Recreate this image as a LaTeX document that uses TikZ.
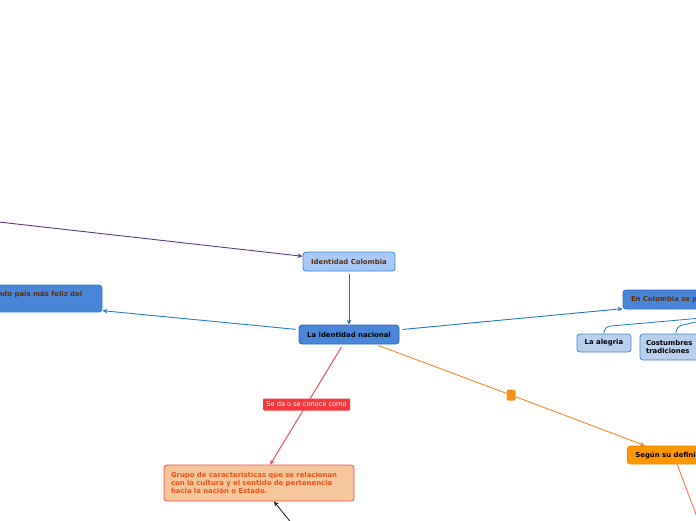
\documentclass[tikz,border=0pt]{standalone}
\usepackage{fontspec}
\setmainfont{DejaVu Sans}
\usetikzlibrary{arrows.meta,calc}
\definecolor{purp}{HTML}{5E3A7A}
\definecolor{lbfill}{HTML}{A9C9F8}
\definecolor{lbdraw}{HTML}{3D85E8}
\definecolor{brn}{HTML}{5A2E10}
\definecolor{mbfill}{HTML}{4A86D8}
\definecolor{mbdraw}{HTML}{2C68C8}
\definecolor{cfill}{HTML}{B9D0EC}
\definecolor{cdraw}{HTML}{4A84C4}
\definecolor{teal}{HTML}{1F7AB8}
\definecolor{blu}{HTML}{2566C4}
\definecolor{orfill}{HTML}{FF9800}
\definecolor{gfill}{HTML}{F6C69B}
\definecolor{gdraw}{HTML}{F05050}
\definecolor{gtext}{HTML}{E8521A}
\definecolor{lblred}{HTML}{F4383E}
\definecolor{sqor}{HTML}{F8901E}
\definecolor{redline}{HTML}{F2404A}
\definecolor{orline}{HTML}{F58A26}
\definecolor{salmon}{HTML}{F27C52}
\definecolor{darkbr}{HTML}{3A2418}
\tikzset{
  boxfont/.style={font=\fontsize{6.9}{8}\selectfont\bfseries},
  box/.style={rounded corners=3pt, line width=0.8pt, inner sep=0pt, boxfont},
  lightbox/.style={box, fill=lbfill, draw=lbdraw, text=brn},
  midbox/.style={box, fill=mbfill, draw=mbdraw},
  childbox/.style={box, fill=cfill, draw=cdraw, text=black},
  orbox/.style={box, fill=orfill, draw=orfill!90!black, text=black},
  grbox/.style={box, fill=gfill, draw=gdraw, text=gtext},
  conn/.style={line width=0.9pt, -{Stealth[length=5pt,width=4.5pt]}},
  plain/.style={line width=0.9pt},
  lbl/.style={fill=lblred, text=white, rounded corners=1pt, inner sep=0pt,
    minimum width=87pt, minimum height=12pt, font=\fontsize{6.6}{8}\selectfont},
}
\begin{document}
\begin{tikzpicture}[x=1pt,y=-1pt]
\useasboundingbox (0,0) rectangle (696,520);
\clip (0,0) rectangle (696,520);
% nodes
\node[lightbox, minimum width=92pt, minimum height=19pt] (idc) at (349,261.5) {Identidad Colombia};
\node[midbox, minimum width=100pt, minimum height=19pt, text=black] (idn) at (349,334.5) {La identidad nacional};
\node[midbox, draw=mbdraw!80!cyan, minimum width=252pt, minimum height=27pt,
  label={[anchor=north east, inner sep=0pt, xshift=-20pt, yshift=-6pt, text=brn,
  boxfont]north east:Colombia es el segundo país más feliz del}] (lft) at (-24,298.5) {};
\node[midbox, minimum width=194pt, minimum height=19pt, text=brn, text width=178pt, align=left] (enc) at (720,299.5) {En Colombia se presenta};
\node[childbox, minimum width=54pt, minimum height=18pt] (ale) at (604,343) {La alegria};
\node[childbox, minimum width=72pt, minimum height=26pt, text width=60pt, align=left] (cos) at (676,347) {Costumbres\\tradiciones};
\node[orbox, minimum height=18pt, inner xsep=8pt, anchor=west] (seg) at (627,455) {Según su definición};
\node[grbox, minimum width=190pt, minimum height=36pt, text width=176pt, align=left] (gru) at (259,483) {Grupo de características que se relacionan\\con la cultura y el sentido de pertenencia\\hacia la nación o Estado.};
\node[fill=sqor, rounded corners=1.5pt, minimum width=9pt, minimum height=11pt, inner sep=0pt] (sq) at (511,395) {};
% free ends
\coordinate (pfree) at (-10,221);
\coordinate (sfree) at (702,530);
\coordinate (bfree) at (297,530);
% connectors
\draw[conn, purp] (pfree) -- (idc);
\draw[conn, blu, shorten <=3pt] (idc) -- (idn);
\draw[conn, blu!85!cyan, shorten <=3pt] (idn) -- (lft);
\draw[conn, teal, shorten <=3pt] (idn) -- (enc);
\draw[plain, teal, line width=0.8pt, rounded corners=6pt] (ale.north) -- ++(0,-7) -- ($(enc.south)+(0,7)$) -- (enc.south);
\draw[plain, teal, line width=0.8pt, rounded corners=6pt] (cos.north) -- ++(0,-7) -- ($(enc.south)+(0,7)$) -- (enc.south);
\draw[conn, redline, shorten <=3pt] (idn) -- node[lbl] {Se da o se conoce como} (gru);
\draw[plain, orline, shorten <=3pt] (idn) -- (sq);
\draw[conn, orline] (sq) -- ($(seg.north west)+(18,0)$);
\draw[plain, salmon] (seg) -- (sfree);
\draw[conn, darkbr] (bfree) -- (gru);
\end{tikzpicture}
\end{document}
